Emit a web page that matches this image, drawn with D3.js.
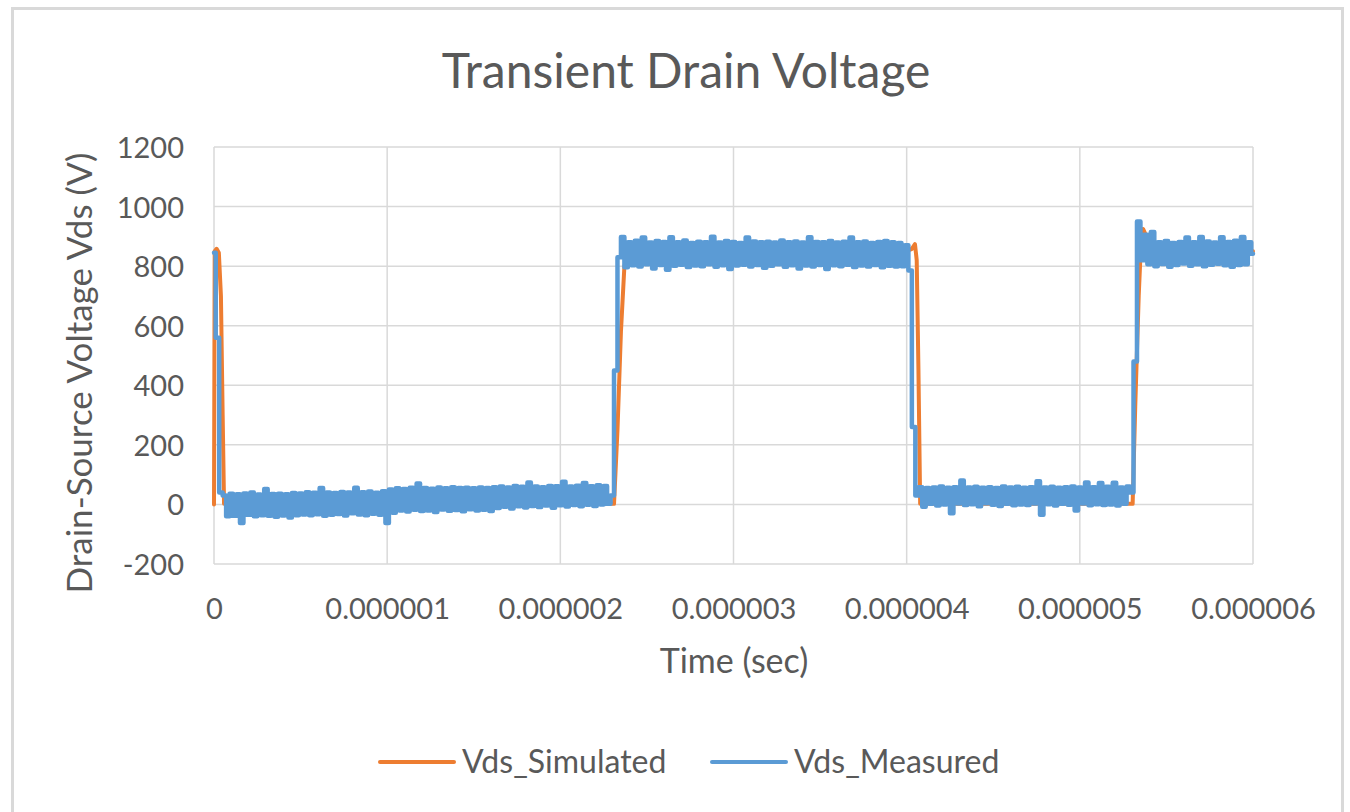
<!DOCTYPE html>
<html>
<head>
<meta charset="utf-8">
<script src="https://cdn.jsdelivr.net/npm/d3@7"></script>
<style>
  body { margin: 0; background: #fff; }
  text { font-family: Lato, "Open Sans", sans-serif; fill: #595959; }
</style>
</head>
<body>
<div id="chart"></div>
<script>
// temps en microsecondes, tensions en volts
const xTicks = [0, 1, 2, 3, 4, 5, 6];
const yTicks = [-200, 0, 200, 400, 600, 800, 1000, 1200];

// Vds simulé : quelques points suffisent
const simTime = [0, 0.004, 0.015, 0.028, 0.04, 0.05, 0.058, 2.31, 2.33, 2.35, 2.37, 2.39, 2.42,
                 4.00, 4.03, 4.048, 4.058, 4.068, 4.078, 5.305, 5.32, 5.34, 5.355, 5.365, 5.40, 5.45, 6.0];
const simVds = [0, 850, 858, 845, 700, 300, 2, 2, 250, 580, 800, 848, 850,
                850, 858, 874, 820, 450, 2, 2, 330, 700, 900, 925, 880, 855, 850];

// Vds mesuré : un échantillon toutes les 0.02 us, par tronçon (début du tronçon en us)
const measStep = 0.02;
const measStart = [0, 2.30, 4.00, 5.30];
const measLow1 = [845, 560, 40,
  30, -40, 36, -38, 34, -62, 37, -35, 40, -40, 33, -36, 52, -38, 35, -41, 36, -37, 34, -44, 38, -36,
  37, -34, 41, -36, 39, -33, 55, -38, 40, -35, 38, -32, 42, -37, 40, -30, 56, -34, 41, -36, 43, -31, 39, -35, 44, -62,
  50, -28, 54, -20, 52, -24, 56, -18, 70, -22, 55, -20, 53, -25, 57, -17, 54, -21, 58, -19, 55, -23, 56, -16, 54, -20, 57, -18, 55, -22,
  58, -12, 60, -8, 57, -14, 62, -6, 59, -10, 74, -5, 60, -9, 58, -4, 62, -11, 61, -3, 76, -7, 60, -2, 63, -6, 72, -1, 61, -5, 64, 0, 62, 2];
const measHigh1 = [30, 450, 830,
  898, 796, 880, 803, 885, 799, 896, 806, 879, 792, 884, 804, 881, 788, 897, 801, 880, 805, 886, 797, 878, 802,
  882, 800, 880, 806, 899, 798, 879, 803, 884, 790, 881, 802, 878, 805, 896, 799, 883, 804, 880, 795, 882, 801, 879, 806, 886, 798, 880, 803, 883, 792,
  879, 802, 897, 799, 881, 804, 880, 790, 884, 803, 879, 800, 882, 805, 896, 797, 880, 802, 883, 799, 878, 804, 881, 796, 884, 801, 880, 799, 878, 800];
const measLow2 = [870, 785, 260, 30,
  58, -8, 55, 2, 57, -4, 60, 0, 56, -30, 58, 3, 80, -2, 57, 1, 59, -6, 56, 4, 58, -1, 55, -5, 60, 2, 57, -3, 59, 0,
  56, -2, 58, 3, 78, -35, 57, 1, 59, -4, 56, 2, 58, -1, 60, -20, 57, 3, 74, -3, 58, 1, 72, -2, 59, 0, 73, -4, 57, 2, 60];
const measHigh2 = [40, 480, 950,
  820, 905, 806, 915, 800, 880, 807, 884, 798, 878, 804, 881, 809, 896, 801, 880, 806, 898, 800, 883,
  805, 879, 808, 897, 803, 881, 798, 885, 804, 898, 806, 880, 842];

const seriesNames = ["Vds_Simulated", "Vds_Measured"];
const colors = ["#ED7D31", "#5B9BD5"];

// assemblage des points
const simData = simTime.map((t, i) => ({ t: t, v: simVds[i] }));
const measData = [];
[measLow1, measHigh1, measLow2, measHigh2].forEach((vals, k) => {
    vals.forEach((v, i) => measData.push({ t: measStart[k] + i * measStep, v: v }));
});

const width = 1350, height = 812;
const plot = { left: 214, right: 1253, top: 147, bottom: 564 };

const svg = d3.select("#chart").append("svg")
    .attr("width", width)
    .attr("height", height);

// cadre du graphique
svg.append("rect")
    .attr("x", 12.5).attr("y", 8.5)
    .attr("width", 1330).attr("height", 830)
    .attr("fill", "#fff")
    .attr("stroke", "#D9D9D9")
    .attr("stroke-width", 3);

const x = d3.scaleLinear().domain([0, 6]).range([plot.left, plot.right]);
const y = d3.scaleLinear().domain([-200, 1200]).range([plot.bottom, plot.top]);

// grille
svg.append("g").selectAll("line")
    .data(yTicks).enter().append("line")
    .attr("x1", plot.left).attr("x2", plot.right)
    .attr("y1", d => y(d)).attr("y2", d => y(d))
    .attr("stroke", "#D9D9D9").attr("stroke-width", 1.5);
svg.append("g").selectAll("line")
    .data(xTicks).enter().append("line")
    .attr("x1", d => x(d)).attr("x2", d => x(d))
    .attr("y1", plot.top).attr("y2", plot.bottom)
    .attr("stroke", "#D9D9D9").attr("stroke-width", 1.5);

// axes (seulement les libellés)
const xAxis = svg.append("g")
    .attr("transform", "translate(0," + plot.bottom + ")")
    .call(d3.axisBottom(x).tickValues(xTicks).tickSize(0).tickPadding(0)
        .tickFormat(d => d === 0 ? "0" : (d * 1e-6).toFixed(6)));
xAxis.select(".domain").remove();
xAxis.selectAll("text")
    .attr("y", 55).attr("dy", null)
    .style("font-size", "29px");

const yAxis = svg.append("g")
    .attr("transform", "translate(184,0)")
    .call(d3.axisLeft(y).tickValues(yTicks).tickSize(0).tickPadding(0)
        .tickFormat(d => String(d)));
yAxis.select(".domain").remove();
yAxis.selectAll("text")
    .attr("x", 0).attr("dy", "0.36em")
    .style("font-size", "29px");
svg.selectAll(".tick text").attr("fill", "#595959").attr("font-family", null);

// courbes : le mesuré en marches pour donner la bande de bruit pleine
const lineSim = d3.line().x(d => x(d.t)).y(d => y(d.v));
const lineMeas = d3.line().x(d => x(d.t)).y(d => y(d.v)).curve(d3.curveStep);
[[simData, lineSim, 4], [measData, lineMeas, 4.5]].forEach((s, i) => {
    svg.append("path")
        .datum(s[0])
        .attr("d", s[1])
        .attr("fill", "none")
        .attr("stroke", colors[i])
        .attr("stroke-width", s[2])
        .attr("stroke-linejoin", "round")
        .attr("stroke-linecap", "round");
});

// titres
svg.append("text")
    .attr("x", 686).attr("y", 88)
    .attr("text-anchor", "middle")
    .style("font-size", "48px")
    .text("Transient Drain Voltage");

svg.append("text")
    .attr("x", 734).attr("y", 673)
    .attr("text-anchor", "middle")
    .style("font-size", "34px")
    .text("Time (sec)");

svg.append("text")
    .attr("transform", "translate(92,373) rotate(-90)")
    .attr("text-anchor", "middle")
    .style("font-size", "35px")
    .text("Drain-Source Voltage Vds (V)");

// légende
const legendX = [380, 712];
const legend = svg.append("g").selectAll("g")
    .data(seriesNames).enter().append("g")
    .attr("transform", (d, i) => "translate(" + legendX[i] + ",762)");
legend.append("line")
    .attr("x1", 0).attr("x2", 74)
    .attr("stroke", (d, i) => colors[i])
    .attr("stroke-width", 4)
    .attr("stroke-linecap", "round");
legend.append("text")
    .attr("x", 82).attr("dy", "0.35em")
    .style("font-size", "32px")
    .text(d => d);
</script>
</body>
</html>
